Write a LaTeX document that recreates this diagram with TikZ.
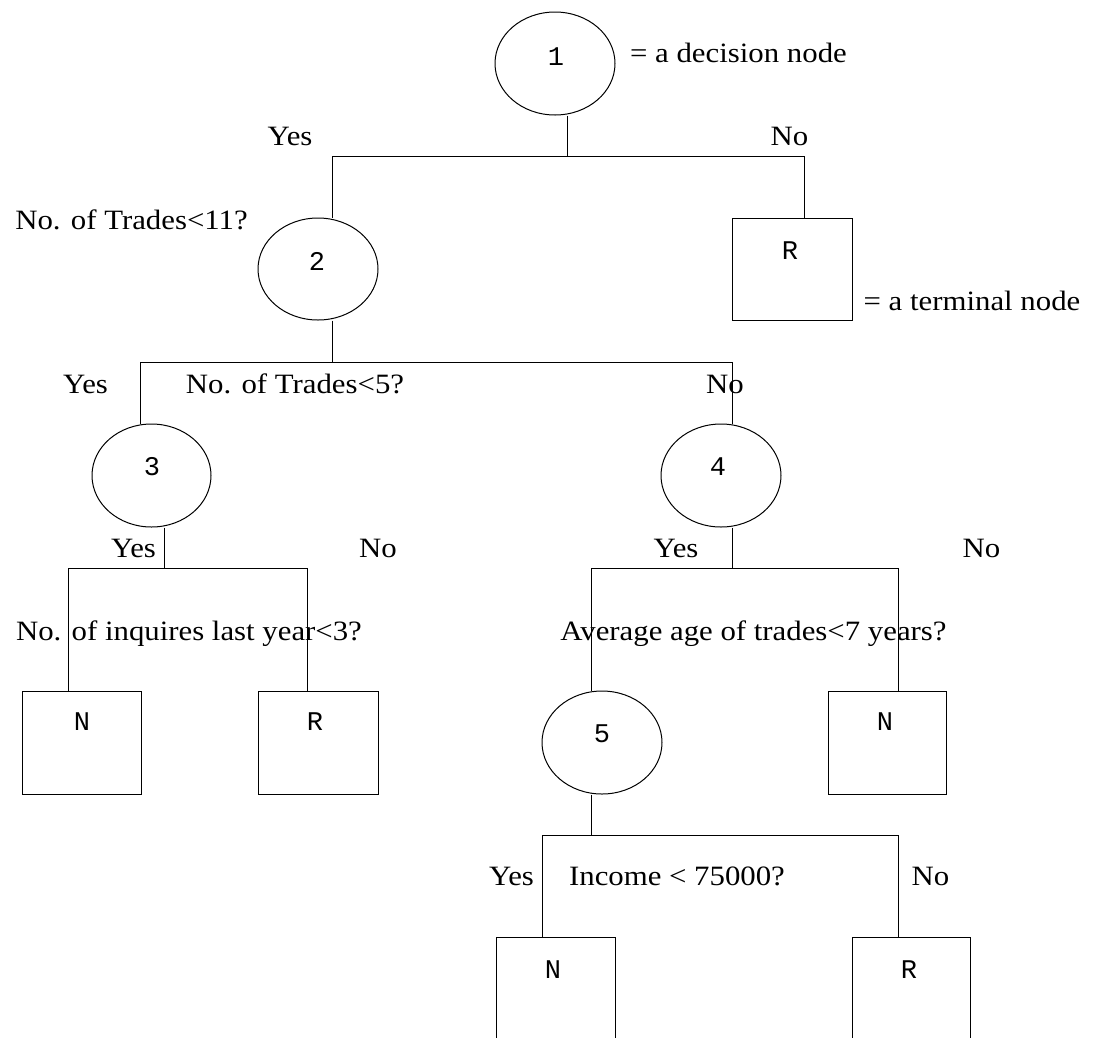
\documentclass[tikz,border=0pt]{standalone}
\usepackage{fontspec}
\setmainfont{Liberation Serif}[FakeStretch=1.1]
\newfontfamily\boxfont{Liberation Mono}
\usetikzlibrary{shapes.geometric}
\begin{document}
\begin{tikzpicture}[x=1pt,y=-1pt,
  dec/.style={draw, ellipse, minimum width=120pt, minimum height=103pt, inner sep=0pt, line width=1pt},
  term/.style={draw, rectangle, minimum width=119pt, minimum height=103pt, inner sep=0pt, line width=1pt},
  lbl/.style={anchor=base, inner sep=0pt, font=\fontsize{28}{28}\selectfont},
  sym/.style={anchor=base, inner sep=0pt, font=\boxfont\fontsize{27}{27}\selectfont},
  edge/.style={line width=1pt}]
\useasboundingbox (0,0) rectangle (1098,1037);
\clip (0,0) rectangle (1098,1037);
\fill[white] (0,0) rectangle (1098,1037);

% decision nodes
\node[dec] (n1) at (555,63.5) {};
\node[dec, minimum height=102pt] (n2) at (318,269) {};
\node[dec, minimum width=119pt] (n3) at (151.5,475.5) {};
\node[dec] (n4) at (721,475.5) {};
\node[dec] (n5) at (602,742.5) {};

% terminal nodes
\node[term, minimum width=120pt, minimum height=102pt] (r1) at (792,269) {};
\node[term] (b1) at (81.5,742.5) {};
\node[term, minimum width=120pt] (b2) at (318,742.5) {};
\node[term, minimum width=118pt] (b3) at (887,742.5) {};
\node[term] (b4) at (555.5,988.5) {};
\node[term, minimum width=118pt] (b5) at (911,988.5) {};

% junction coordinates
\coordinate (h1L) at (332,156.5);
\coordinate (h1M) at (567,156.5);
\coordinate (h1R) at (804,156.5);
\coordinate (h2L) at (140,362);
\coordinate (h2M) at (332,362);
\coordinate (h2R) at (732,362);
\coordinate (h3a) at (68,568);
\coordinate (h3m) at (164,568);
\coordinate (h3b) at (307,568);
\coordinate (h4a) at (591,568);
\coordinate (h4m) at (732,568);
\coordinate (h4b) at (898,568);
\coordinate (h5a) at (542,835);
\coordinate (h5m) at (591,835);
\coordinate (h5b) at (898,835);

% connectors
\draw[edge] (n1.south -| h1M) -- (h1M);
\draw[edge] (n2.north -| h1L) -- (h1L) -- (h1R) -- (r1.north -| h1R);
\draw[edge] (n2.south -| h2M) -- (h2M);
\draw[edge] (n3.north -| h2L) -- (h2L) -- (h2R) -- (n4.north -| h2R);
\draw[edge] (n3.south -| h3m) -- (h3m);
\draw[edge] (b1.north -| h3a) -- (h3a) -- (h3b) -- (b2.north -| h3b);
\draw[edge] (n4.south -| h4m) -- (h4m);
\draw[edge] (n5.north -| h4a) -- (h4a) -- (h4b) -- (b3.north -| h4b);
\draw[edge] (n5.south -| h5m) -- (h5m);
\draw[edge] (b4.north -| h5a) -- (h5a) -- (h5b) -- (b5.north -| h5b);

% symbols inside nodes
\node[sym] (s1) at (556,65) {1};
\node[sym] (s2) at (317,270) {2};
\node[sym] (s3) at (152,475) {3};
\node[sym] (s4) at (718,475) {4};
\node[sym] (s5) at (602,742) {5};
\node[sym] (sr1) at (790,259) {R};
\node[sym] (sb1) at (82,730) {N};
\node[sym] (sb2) at (315,730) {R};
\node[sym] (sb3) at (885,730) {N};
\node[sym] (sb4) at (553,978) {N};
\node[sym] (sb5) at (909,978) {R};

% labels
\node[lbl] (ldec) at (738.5,62) {= a decision node};
\node[lbl] (y1) at (290,145) {Yes};
\node[lbl] (no1) at (789.5,145) {No};
\node[lbl] (q1) at (131.5,229) {No. of Trades<11?};
\node[lbl] (lterm) at (972,310) {= a terminal node};
\node[lbl] (y2) at (85.5,393) {Yes};
\node[lbl] (q2) at (295,393) {No. of Trades<5?};
\node[lbl] (no2) at (725,393) {No};
\node[lbl] (y3) at (133.5,557) {Yes};
\node[lbl] (no3) at (378,557) {No};
\node[lbl] (q3) at (189,640) {No. of inquires last year<3?};
\node[lbl] (y4) at (676,557) {Yes};
\node[lbl] (no4) at (981.5,557) {No};
\node[lbl] (q4) at (753.5,640) {Average age of trades<7 years?};
\node[lbl] (y5) at (511.5,885) {Yes};
\node[lbl] (q5) at (677,885) {Income < 75000?};
\node[lbl] (no5) at (930.5,885) {No};
\end{tikzpicture}
\end{document}
